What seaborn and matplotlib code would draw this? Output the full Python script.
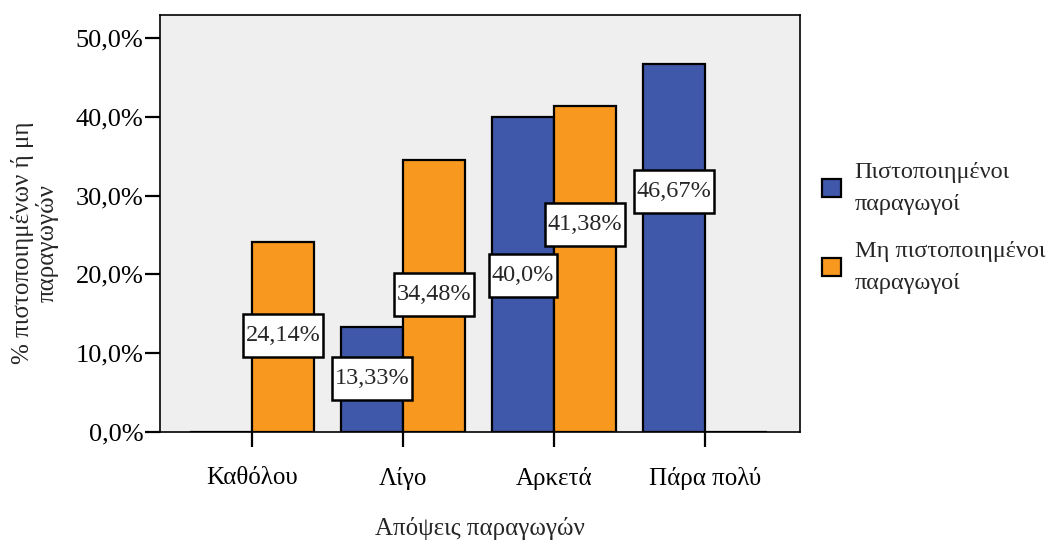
import matplotlib
matplotlib.use("Agg")
import matplotlib.pyplot as plt
from matplotlib.ticker import FuncFormatter
from matplotlib.patches import Patch, Rectangle
import pandas as pd
import seaborn as sns

categories = ['Καθόλου', 'Λίγο', 'Αρκετά', 'Πάρα πολύ']
groups = ['Πιστοποιημένοι\nπαραγωγοί', 'Μη πιστοποιημένοι\nπαραγωγοί']
certified = [0.0, 13.33, 40.0, 46.67]
non_certified = [24.14, 34.48, 41.38, 0.0]
# label text and where SPSS put the boxes (percent units); None = no label
cert_labels = [None, '13,33%', '40,0%', '46,67%']
cert_label_y = [None, 6.8, 19.9, 30.5]
noncert_labels = ['24,14%', '34,48%', '41,38%', None]
noncert_label_y = [12.2, 17.4, 26.3, None]

blue = '#3F58AA'
orange = '#F8981F'

sns.set_theme(style='white')
plt.rcParams['font.family'] = ['Liberation Serif', 'DejaVu Serif']

df = pd.DataFrame({
    'cat': categories * 2,
    'pct': certified + non_certified,
    'group': [groups[0]] * 4 + [groups[1]] * 4,
})

fig = plt.figure(figsize=(10.51, 5.43), dpi=100)
ax = fig.add_axes([160 / 1051, 1 - 432 / 543, 640 / 1051, 417 / 543])
ax.set_facecolor('#EFEFEF')

sns.barplot(data=df, x='cat', y='pct', hue='group', palette=[blue, orange],
            edgecolor='black', linewidth=1.6, width=0.82, saturation=1,
            errorbar=None, legend=False, ax=ax)

ax.set_xlim(-0.61, 3.63)
ax.set_ylim(0, 52.9)
ax.set_yticks([0, 10, 20, 30, 40, 50])
ax.yaxis.set_major_formatter(FuncFormatter(lambda v, p: f'{v:.1f}%'.replace('.', ',')))

for spine in ax.spines.values():
    spine.set_visible(True)
    spine.set_color('black')
    spine.set_linewidth(1.2)
ax.tick_params(axis='both', which='major', direction='out', length=11, width=1.6,
               color='black', labelsize=18, labelcolor='black', left=True, bottom=True)
ax.tick_params(axis='y', labelsize=19, pad=1)
ax.tick_params(axis='x', pad=14)

ax.set_xlabel('Απόψεις παραγωγών', fontsize=18, labelpad=20)
ax.set_ylabel('% πιστοποιημένων ή μη\nπαραγωγών', fontsize=18, linespacing=1.05)
ax.yaxis.set_label_coords(-0.159, 0.453)

# value labels in white boxes, box sized from the text width
renderer = fig.canvas.get_renderer()
to_data = ax.transData.inverted()
for container, labels, ys in zip(ax.containers, [cert_labels, noncert_labels],
                                 [cert_label_y, noncert_label_y]):
    for bar, lab, y in zip(container, labels, ys):
        if lab is None:
            continue
        xc = bar.get_x() + bar.get_width() / 2
        t = ax.text(xc, y, lab, ha='center', va='center', fontsize=17.5, zorder=6)
        ext = t.get_window_extent(renderer)
        cx, cy = ax.transData.transform((xc, y))
        (x0, y0), (x1, y1) = to_data.transform([(cx - ext.width / 2 - 3, cy - 21.5),
                                               (cx + ext.width / 2 + 3, cy + 21.5)])
        ax.add_patch(Rectangle((x0, y0), x1 - x0, y1 - y0, facecolor='white',
                               edgecolor='black', linewidth=1.8, zorder=5))

handles = [Patch(facecolor=blue, edgecolor='black', linewidth=1.6),
           Patch(facecolor=orange, edgecolor='black', linewidth=1.6)]
leg = fig.legend(handles, groups, loc='center left', bbox_to_anchor=(800 / 1051, 1 - 228 / 543),
                 frameon=False, fontsize=17.5, handlelength=0.8, handleheight=0.8,
                 handletextpad=0.55, labelspacing=1.1)
for t in leg.get_texts():
    t.set_linespacing(1.65)

fig.savefig('out.png', dpi=100)
